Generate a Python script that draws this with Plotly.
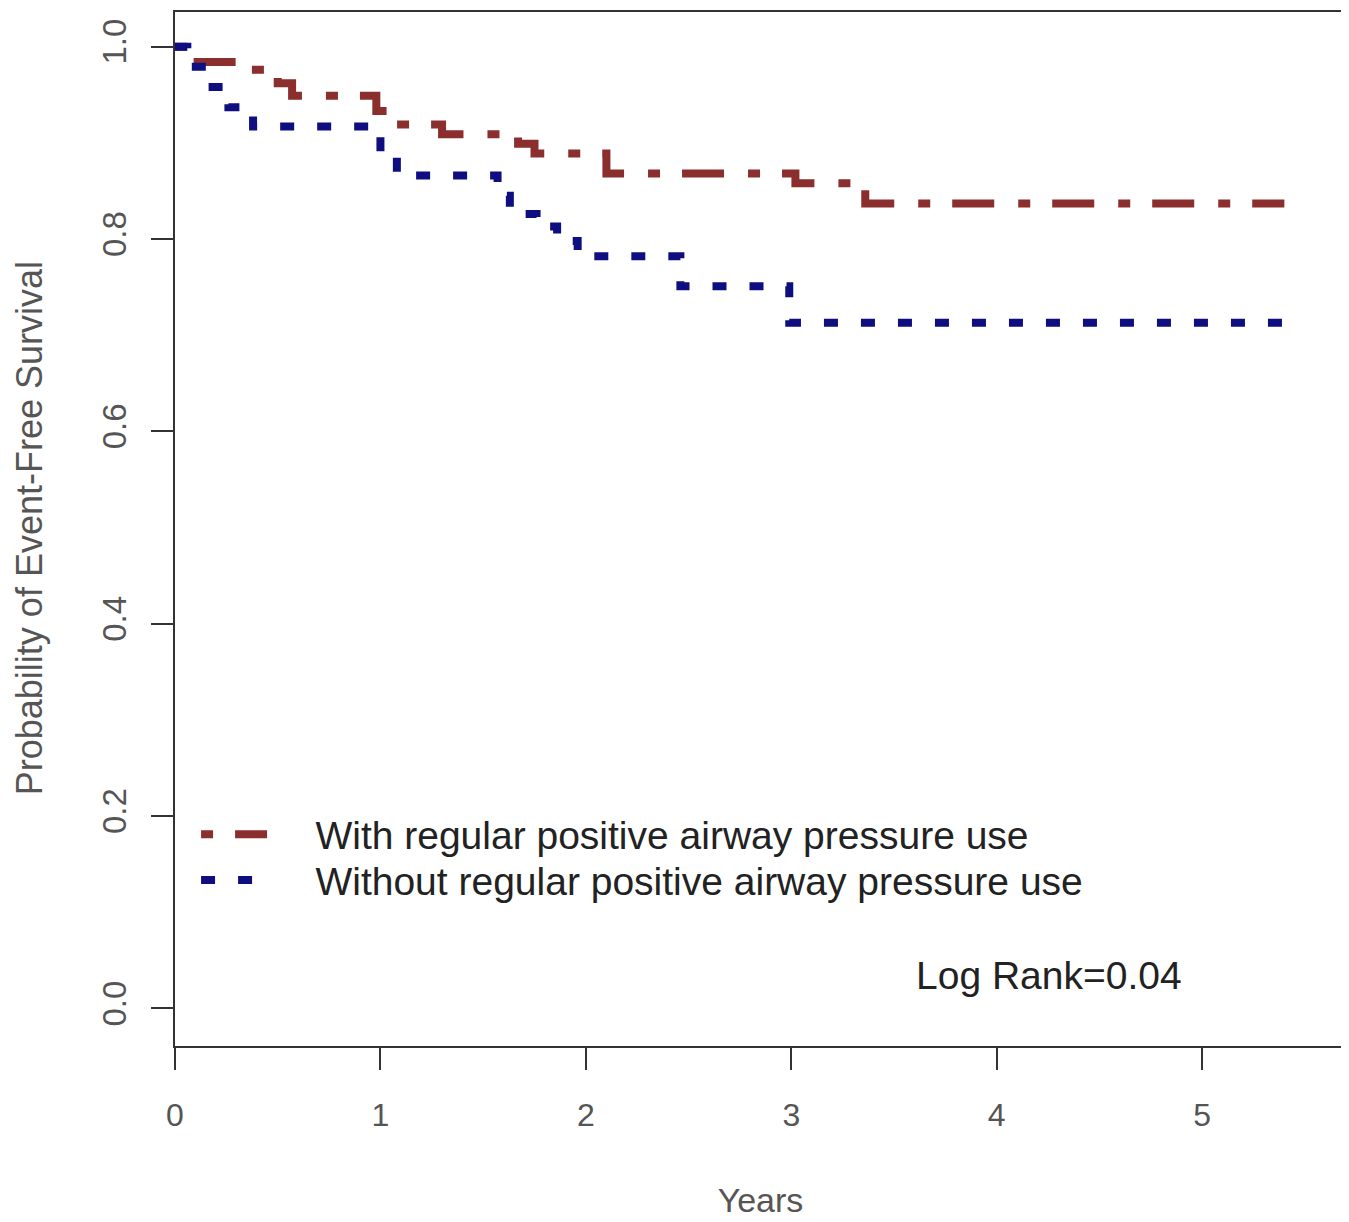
import plotly.graph_objects as go

# Kaplan-Meier step data
with_pap_years = [0, 0.08, 0.35, 0.50, 0.57, 0.98, 1.05, 1.30, 1.67, 1.75, 2.10, 3.02, 3.36, 5.40]
with_pap_surv = [1.000, 0.984, 0.976, 0.962, 0.949, 0.933, 0.919, 0.909, 0.899, 0.889, 0.868, 0.858, 0.837, 0.837]

without_pap_years = [0, 0.06, 0.16, 0.26, 0.38, 1.00, 1.08, 1.57, 1.63, 1.76, 1.86, 1.96, 2.46, 2.99, 5.40]
without_pap_surv = [1.000, 0.979, 0.958, 0.937, 0.917, 0.891, 0.866, 0.845, 0.826, 0.813, 0.798, 0.782, 0.751, 0.713, 0.713]

series_names = ["With regular positive airway pressure use",
                "Without regular positive airway pressure use"]
x_ticks = [0, 1, 2, 3, 4, 5]
y_ticks = [0.0, 0.2, 0.4, 0.6, 0.8, 1.0]
annotation_text = "Log Rank=0.04"
x_title = "Years"
y_title = "Probability of Event-Free Survival"

FONT = "Liberation Sans, Arial, sans-serif"
PAD = "\u00a0" * 4

fig = go.Figure()
fig.add_trace(go.Scatter(
    x=with_pap_years, y=with_pap_surv, mode="lines", line_shape="hv",
    name=PAD + series_names[0], legend="legend",
    line=dict(color="#8b2e2e", width=8, dash="12px,22px,42px,24px"),
))
fig.add_trace(go.Scatter(
    x=without_pap_years, y=without_pap_surv, mode="lines", line_shape="hv",
    name=PAD + series_names[1], legend="legend2",
    line=dict(color="#0e0e80", width=8, dash="14px,23px"),
))

fig.add_annotation(
    x=0.862, y=0.0685, xref="paper", yref="paper", xanchor="right", yanchor="middle",
    text=annotation_text, showarrow=False,
    font=dict(family=FONT, size=39, color="#222"),
)
fig.add_annotation(
    x=-0.1236, y=0.501, xref="paper", yref="paper", xanchor="center", yanchor="middle",
    text=y_title, showarrow=False, textangle=-90,
    font=dict(family=FONT, size=36, color="#555"),
)

legend_common = dict(
    xanchor="left", yanchor="middle", bgcolor="rgba(0,0,0,0)",
    font=dict(family=FONT, size=39, color="#222"), itemwidth=66,
)

fig.update_layout(
    width=1349, height=1222,
    margin=dict(l=167, r=11, t=2, b=184),
    plot_bgcolor="white", paper_bgcolor="white",
    font=dict(family=FONT, color="#333"),
    showlegend=True,
    legend=dict(x=0.018, y=0.2047, **legend_common),
    legend2=dict(x=0.018, y=0.1603, **legend_common),
    xaxis=dict(
        range=[0, 5.70], tickvals=x_ticks, ticktext=[str(v) for v in x_ticks],
        showgrid=False, zeroline=False, showline=True, mirror=True,
        linecolor="#333", linewidth=2, ticks="outside", ticklen=22, tickwidth=2,
        tickcolor="#333", tickfont=dict(size=32, color="#555"),
        ticklabelstandoff=18,
        title=dict(text=x_title, font=dict(size=34, color="#555"), standoff=56),
    ),
    yaxis=dict(
        range=[-0.039, 1.036], tickvals=y_ticks, ticktext=[f"{v:.1f}" for v in y_ticks],
        showgrid=False, zeroline=False, showline=True, mirror=True,
        linecolor="#333", linewidth=2, ticks="outside", ticklen=22, tickwidth=2,
        tickcolor="#333", tickfont=dict(size=33, color="#555"), tickangle=-90,
        ticklabelstandoff=12,
    ),
)

fig.write_html("out.html")
